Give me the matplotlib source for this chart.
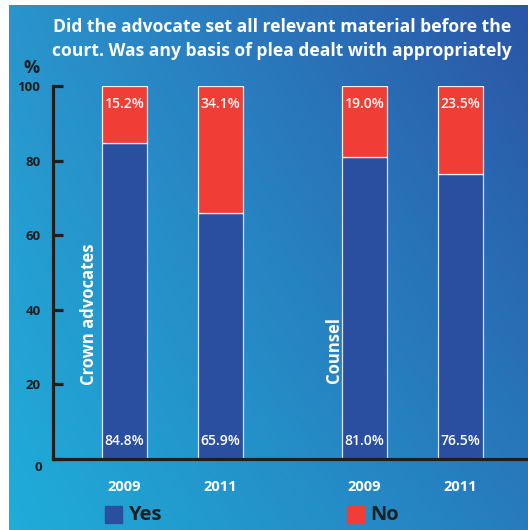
import numpy as np
import matplotlib
import matplotlib.pyplot as plt
from matplotlib.patches import Rectangle

matplotlib.use('agg')
plt.rcParams['font.family'] = ['Open Sans', 'DejaVu Sans']

years = ['2009', '2011', '2009', '2011']
groups = ['Crown advocates', 'Counsel']
yes_vals = [84.8, 65.9, 81.0, 76.5]
no_vals = [15.2, 34.1, 19.0, 23.5]
xpos = [0, 1, 2.5, 3.5]

blue = '#2a4fa1'
red = '#f03e37'
ink = '#1e1e1e'

W, H = 528, 530
fig = plt.figure(figsize=(W / 100, H / 100), dpi=100)

# gradient backdrop, light cyan lower left to deep blue upper right
bg = fig.add_axes([9 / W, 0, 1 - 9 / W, (H - 5) / H])
bg.set_axis_off()
tl = np.array([0x2a, 0x94, 0xcd]) / 255
tr = np.array([0x2b, 0x55, 0xa6]) / 255
bl = np.array([0x1f, 0xad, 0xd8]) / 255
br = np.array([0x27, 0x7c, 0xbe]) / 255
u = np.linspace(0, 1, 200)[None, :, None]
v = np.linspace(0, 1, 200)[:, None, None]
grad = (1 - v) * ((1 - u) * tl + u * tr) + v * ((1 - u) * bl + u * br)
bg.imshow(grad, aspect='auto', extent=[0, 1, 0, 1])
bg.set_xlim(0, 1)
bg.set_ylim(0, 1)

ax = fig.add_axes([53 / W, (H - 459) / H, (W - 53) / W, (459 - 86) / H])
ax.patch.set_alpha(0)
ax.set_xlim(-0.745, 4.203)
ax.set_ylim(0, 100)

bw = 45 / 96
ax.bar(xpos, yes_vals, width=bw, color=blue, edgecolor='#d8e4f2', linewidth=0.9, zorder=2)
ax.bar(xpos, no_vals, width=bw, bottom=yes_vals, color=red, edgecolor='#f2f2f2', linewidth=0.9, zorder=2)

for x, y, n in zip(xpos, yes_vals, no_vals):
    ax.text(x, 4.8, f'{y:.1f}%', color='white', fontsize=10, fontweight='semibold',
            ha='center', va='center', zorder=3)
    ax.text(x, 95.3, f'{n:.1f}%', color='white', fontsize=10, fontweight='semibold',
            ha='center', va='center', zorder=3)

ax.text(-0.37, 19.8, groups[0], rotation=90, color='white', fontsize=12, fontweight='bold',
        ha='center', va='bottom')
ax.text(2.18, 20.3, groups[1], rotation=90, color='white', fontsize=12, fontweight='bold',
        ha='center', va='bottom')

for s in ['top', 'right']:
    ax.spines[s].set_visible(False)
for s in ['left', 'bottom']:
    ax.spines[s].set_linewidth(2.3)
    ax.spines[s].set_color(ink)
    ax.spines[s].set_capstyle('projecting')

ax.set_yticks([0, 20, 40, 60, 80, 100])
ax.set_yticklabels(['', '20', '40', '60', '80', '100'])
ax.tick_params(axis='y', direction='in', length=7.5, width=2.3, color=ink,
               labelsize=9.5, labelcolor=ink, pad=9)
for lab in ax.get_yticklabels():
    lab.set_fontweight('bold')
ax.text(-0.03, -0.5, '0', transform=ax.get_yaxis_transform(), fontsize=9.5, fontweight='bold',
        color=ink, ha='center', va='top')

ax.set_xticks(xpos)
ax.set_xticklabels(years)
ax.tick_params(axis='x', length=0, pad=15, labelsize=10.5, labelcolor='white')
for lab in ax.get_xticklabels():
    lab.set_fontweight('bold')

fig.text(282 / W, 1 - 27 / H, 'Did the advocate set all relevant material before the',
         color='white', fontsize=12.6, fontweight='bold', ha='center', va='center')
fig.text(282 / W, 1 - 51 / H, 'court. Was any basis of plea dealt with appropriately',
         color='white', fontsize=12.6, fontweight='bold', ha='center', va='center')
fig.text(32 / W, 1 - 68 / H, '%', color=ink, fontsize=13, fontweight='bold',
         ha='center', va='center')

# legend
for x0, col, lab in [(105, blue, 'Yes'), (347, red, 'No')]:
    fig.patches.append(Rectangle((x0 / W, 1 - 523 / H), 17 / W, 17 / H,
                                 transform=fig.transFigure, color=col))
    fig.text((x0 + 23) / W, 1 - 515 / H, lab, color=ink, fontsize=14.5, fontweight='bold',
             ha='left', va='center')

fig.savefig('out.png', dpi=100)
